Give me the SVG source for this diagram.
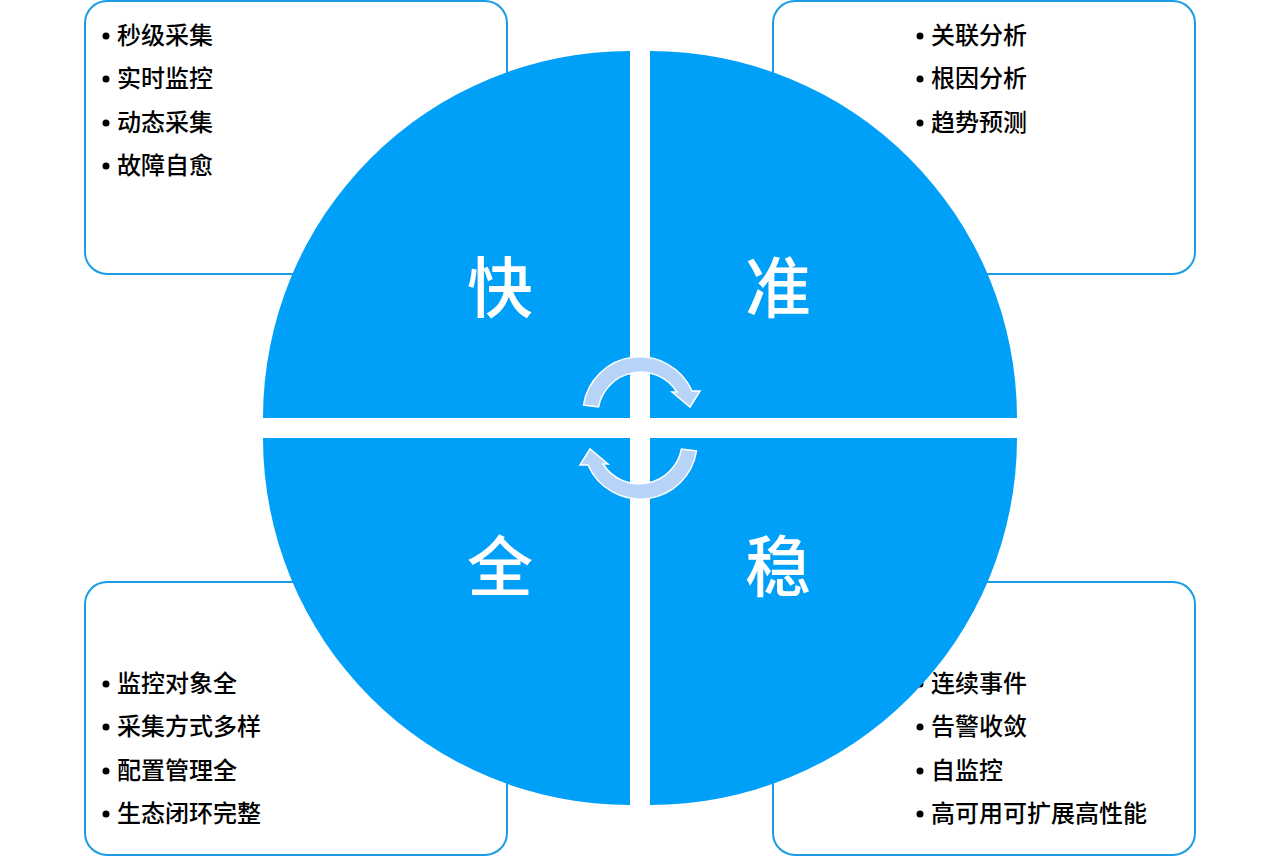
<svg xmlns="http://www.w3.org/2000/svg" width="1280" height="856" viewBox="0 0 1280 856">
<style>
.box{fill:#fff;stroke:#1a9de6;stroke-width:2}
.q{fill:#00a0f8}
.t{font-family:"Noto Sans CJK SC","Noto Sans",sans-serif;font-size:24px;font-weight:500;fill:#000}
.b{fill:#000}
.big{font-family:"Noto Sans CJK SC","Noto Sans",sans-serif;font-size:66px;font-weight:500;fill:#fff;text-anchor:middle}
.arr{fill:#b7d3f7;stroke:#fff;stroke-width:1.5}
</style>
<g id="box-kuai">
<rect class="box" x="85" y="1" width="422" height="273" rx="22"/>
<circle class="b" cx="106" cy="36" r="3.5"/><circle class="b" cx="106" cy="79" r="3.5"/><circle class="b" cx="106" cy="123" r="3.5"/><circle class="b" cx="106" cy="166" r="3.5"/>
<text class="t" x="117" y="44">秒级采集</text>
<text class="t" x="117" y="87">实时监控</text>
<text class="t" x="117" y="131">动态采集</text>
<text class="t" x="117" y="174">故障自愈</text>
</g>
<g id="box-zhun">
<rect class="box" x="773" y="1" width="422" height="273" rx="22"/>
<circle class="b" cx="920" cy="36" r="3.5"/><circle class="b" cx="920" cy="79" r="3.5"/><circle class="b" cx="920" cy="123" r="3.5"/>
<text class="t" x="931" y="44">关联分析</text>
<text class="t" x="931" y="87">根因分析</text>
<text class="t" x="931" y="131">趋势预测</text>
</g>
<g id="box-quan">
<rect class="box" x="85" y="582" width="422" height="273" rx="22"/>
<circle class="b" cx="106" cy="684" r="3.5"/><circle class="b" cx="106" cy="727" r="3.5"/><circle class="b" cx="106" cy="771" r="3.5"/><circle class="b" cx="106" cy="814" r="3.5"/>
<text class="t" x="117" y="692">监控对象全</text>
<text class="t" x="117" y="735">采集方式多样</text>
<text class="t" x="117" y="779">配置管理全</text>
<text class="t" x="117" y="822">生态闭环完整</text>
</g>
<g id="box-wen">
<rect class="box" x="773" y="582" width="422" height="273" rx="22"/>
<circle class="b" cx="920" cy="684" r="3.5"/><circle class="b" cx="920" cy="727" r="3.5"/><circle class="b" cx="920" cy="771" r="3.5"/><circle class="b" cx="920" cy="814" r="3.5"/>
<text class="t" x="931" y="692">连续事件</text>
<text class="t" x="931" y="735">告警收敛</text>
<text class="t" x="931" y="779">自监控</text>
<text class="t" x="931" y="822">高可用可扩展高性能</text>
</g>
<g id="q-kuai">
<path class="q" d="M630 418 L263 418 A367 367 0 0 1 630 51 Z"/>
<text class="big" x="500" y="312">快</text>
</g>
<g id="q-zhun">
<path class="q" d="M650 418 L650 51 A367 367 0 0 1 1017 418 Z"/>
<text class="big" x="778" y="312">准</text>
</g>
<g id="q-quan">
<path class="q" d="M630 438 L630 805 A367 367 0 0 1 263 438 Z"/>
<text class="big" x="500" y="591">全</text>
</g>
<g id="q-wen">
<path class="q" d="M650 438 L1017 438 A367 367 0 0 1 650 805 Z"/>
<text class="big" x="778" y="591">稳</text>
</g>
<g id="connectors">
<path id="arrow-top" class="arr" d="M583.5 405 A57 57 0 0 1 692 391 L700 391 L690 407 L672 392 L677 392 A43 43 0 0 0 598.5 407 Z"/>
<path id="arrow-bottom" class="arr" transform="rotate(180 640 428)" d="M583.5 405 A57 57 0 0 1 692 391 L700 391 L690 407 L672 392 L677 392 A43 43 0 0 0 598.5 407 Z"/>
</g>
</svg>
